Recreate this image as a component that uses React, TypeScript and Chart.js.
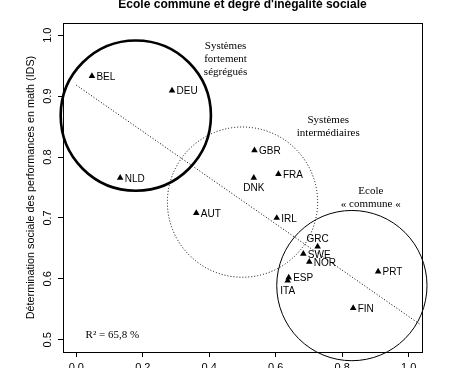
import React, { useEffect, useRef } from "react";
import { Chart, registerables } from "chart.js";

Chart.register(...registerables);

// ---------- data ----------
const countries = ["BEL", "DEU", "NLD", "GBR", "FRA", "DNK", "AUT", "IRL", "GRC", "SWE", "NOR", "ESP", "ITA", "PRT", "FIN"];
const xValues = [0.047, 0.288, 0.132, 0.536, 0.608, 0.534, 0.361, 0.603, 0.726, 0.683, 0.701, 0.639, 0.636, 0.908, 0.833];
const yValues = [0.933, 0.909, 0.766, 0.811, 0.772, 0.766, 0.708, 0.700, 0.653, 0.641, 0.628, 0.602, 0.597, 0.612, 0.552];

// regression line end points
const regX = [0, 1.035];
const regY = [0.918, 0.525];

// group circles (centre in data units, radius in x units)
const circleX = [0.179, 0.5, 0.829];
const circleY = [0.868, 0.726, 0.589];
const circleR = [0.226, 0.226, 0.226];

const xTicks = [0, 0.2, 0.4, 0.6, 0.8, 1.0];
const yTicks = [0.5, 0.6, 0.7, 0.8, 0.9, 1.0];

const titleText = "Ecole commune et degré d'inégalité sociale";
const yTitle = "Détermination sociale des performances en math (IDS)";
const groupLabels = [
  ["Systèmes", "fortement", "ségrégués"],
  ["Systèmes", "intermédiaires"],
  ["Ecole", "« commune «"],
];
const groupLabelX = [0.449, 0.758, 0.886];
const groupLabelY = [0.982, 0.86, 0.744];
const r2Text = "R² = 65,8 %";
const r2X = 0.028;
const r2Y = 0.508;

// ---------- styles ----------
const SANS = "'Liberation Sans', Arial, Helvetica, sans-serif";
const SERIF = "'Liberation Serif', 'Times New Roman', serif";
const labelPlacement: Record<string, string> = { DNK: "below", ITA: "below", GRC: "above" };
const circleStyles = [
  { width: 2.6, dash: [] as number[] },
  { width: 1, dash: [1, 2] },
  { width: 1, dash: [] as number[] },
];

const decorPlugin = {
  id: "decor",
  afterDatasetsDraw(chart: any) {
    const { ctx, chartArea, scales } = chart;
    const xs = scales.x;
    const ys = scales.y;
    ctx.save();
    // circles
    circleX.forEach((cx, i) => {
      const px = xs.getPixelForValue(cx);
      const py = ys.getPixelForValue(circleY[i]);
      const r = xs.getPixelForValue(circleR[i]) - xs.getPixelForValue(0);
      ctx.beginPath();
      ctx.setLineDash(circleStyles[i].dash);
      ctx.lineWidth = circleStyles[i].width;
      ctx.strokeStyle = "#000";
      ctx.arc(px, py, r, 0, Math.PI * 2);
      ctx.stroke();
    });
    ctx.setLineDash([]);
    // point labels
    ctx.fillStyle = "#000";
    ctx.font = `10px ${SANS}`;
    countries.forEach((c, i) => {
      const px = xs.getPixelForValue(xValues[i]);
      const py = ys.getPixelForValue(yValues[i]);
      const pos = labelPlacement[c] || "right";
      ctx.textBaseline = "middle";
      if (pos === "right") {
        ctx.textAlign = "left";
        ctx.fillText(c, px + 4.5, py + 1);
      } else if (pos === "below") {
        ctx.textAlign = "center";
        ctx.fillText(c, px, py + 10.5);
      } else {
        ctx.textAlign = "center";
        ctx.fillText(c, px, py - 7.5);
      }
    });
    // group labels
    ctx.font = `11px ${SERIF}`;
    ctx.textAlign = "center";
    groupLabels.forEach((lines, i) => {
      const px = xs.getPixelForValue(groupLabelX[i]);
      const py = ys.getPixelForValue(groupLabelY[i]);
      lines.forEach((l, j) => ctx.fillText(l, px, py + j * 13));
    });
    ctx.textAlign = "left";
    ctx.fillText(r2Text, xs.getPixelForValue(r2X), ys.getPixelForValue(r2Y));
    // box
    ctx.lineWidth = 1;
    ctx.strokeRect(chartArea.left + 0.5, chartArea.top + 0.5, chartArea.right - chartArea.left, chartArea.bottom - chartArea.top);
    // title
    ctx.font = `bold 12px ${SANS}`;
    ctx.textAlign = "center";
    ctx.textBaseline = "alphabetic";
    ctx.fillText(titleText, (chartArea.left + chartArea.right) / 2, 7.5);
    ctx.restore();
  },
};

export default function App() {
  const ref = useRef<HTMLCanvasElement>(null);
  useEffect(() => {
    if (!ref.current) return;
    const chart = new Chart(ref.current, {
      type: "scatter",
      data: {
        datasets: [
          {
            type: "line",
            data: regX.map((x, i) => ({ x, y: regY[i] })),
            borderColor: "#000",
            borderWidth: 1,
            borderDash: [1, 2],
            pointRadius: 0,
            fill: false,
          } as any,
          {
            data: xValues.map((x, i) => ({ x, y: yValues[i] })),
            pointStyle: "triangle",
            pointRadius: 3.8,
            backgroundColor: "#000",
            borderColor: "#000",
            borderWidth: 0,
          },
        ],
      },
      options: {
        responsive: false,
        animation: false,
        layout: { padding: { left: 0, right: 41, top: 23, bottom: 0 } },
        plugins: { legend: { display: false }, tooltip: { enabled: false } },
        scales: {
          x: {
            type: "linear",
            min: -0.04,
            max: 1.04,
            afterBuildTicks: (s: any) => { s.ticks = xTicks.map((v) => ({ value: v })); },
            afterFit: (s: any) => { s.height = 16; },
            ticks: {
              callback: (v: any) => Number(v).toFixed(1),
              font: { family: SANS, size: 11 },
              color: "#000",
              padding: 4,
              maxRotation: 0,
            },
            grid: { drawOnChartArea: false, drawTicks: true, tickLength: 5, color: "#000" },
            border: { display: false },
          },
          y: {
            type: "linear",
            min: 0.48,
            max: 1.02,
            afterBuildTicks: (s: any) => { s.ticks = yTicks.map((v) => ({ value: v })); },
            afterFit: (s: any) => { s.width = 63; },
            ticks: {
              callback: (v: any) => Number(v).toFixed(1),
              font: { family: SANS, size: 11 },
              color: "#000",
              padding: 2,
              minRotation: 90,
              maxRotation: 90,
              crossAlign: "center",
            },
            grid: { drawOnChartArea: false, drawTicks: true, tickLength: 5, color: "#000" },
            border: { display: false },
            title: {
              display: true,
              text: yTitle,
              font: { family: SANS, size: 10.8 },
              color: "#000",
              padding: { top: 25, bottom: 0 },
            },
          },
        },
      },
      plugins: [decorPlugin],
    } as any);
    return () => chart.destroy();
  }, []);
  return (
    <div style={{ position: "absolute", left: 0, top: 0, width: 463, height: 368 }}>
      <canvas ref={ref} width={463} height={368} />
    </div>
  );
}
